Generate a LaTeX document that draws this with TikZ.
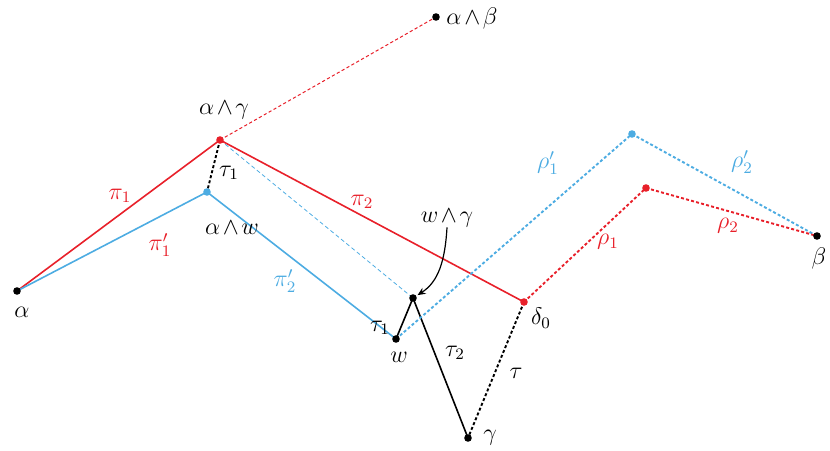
\documentclass[tikz,border=0pt]{standalone}
\usetikzlibrary{arrows.meta}
\definecolor{myred}{RGB}{232,32,42}
\definecolor{myblue}{RGB}{77,172,226}
\newcommand\labfont{\fontsize{12}{14}\selectfont\medmuskip=2mu\relax}
\begin{document}
\begin{tikzpicture}[x=0.5pt,y=-0.5pt,
  dotpt/.style={circle,fill,inner sep=0pt,minimum size=3.8pt},
  solidline/.style={line width=0.8pt},
  dotline/.style={line width=0.95pt,dash pattern=on 1.5pt off 1.1pt},
  thinred/.style={myred,line width=0.5pt,dash pattern=on 1.6pt off 1.2pt},
  thinblue/.style={myblue,line width=0.4pt,dash pattern=on 2pt off 1.4pt},
  lab/.style={inner sep=0pt,font=\labfont}]
\useasboundingbox (0,0) rectangle (830,450);
% points
\coordinate (a) at (17,291);
\coordinate (ag) at (220,140);
\coordinate (aw) at (207,192);
\coordinate (ab) at (436,17);
\coordinate (wg) at (413,298);
\coordinate (w) at (396,339);
\coordinate (d0) at (524,302);
\coordinate (g) at (468,438);
\coordinate (bt) at (632,134);
\coordinate (rt) at (646,188);
\coordinate (b) at (817,236);
% lines
\draw[thinred] (ag) -- (ab);
\draw[thinblue] (ag) -- (wg);
\draw[solidline,myred] (a) -- (ag);
\draw[solidline,myred] (ag) -- (d0);
\draw[solidline,myblue] (a) -- (aw);
\draw[solidline,myblue] (aw) -- (w);
\draw[dotline] (ag) -- (aw);
\draw[solidline] (w) -- (wg);
\draw[solidline] (wg) -- (g);
\draw[dotline,myblue] (w) -- (bt);
\draw[dotline,myblue] (bt) -- (b);
\draw[dotline,myred] (d0) -- (rt);
\draw[dotline,myred] (rt) -- (b);
\draw[dotline] (d0) -- (g);
% dots
\node[dotpt] (na) at (a) {};
\node[dotpt,myred] (nag) at (ag) {};
\node[dotpt,myblue] (naw) at (aw) {};
\node[dotpt] (nab) at (ab) {};
\node[dotpt] (nwg) at (wg) {};
\node[dotpt] (nw) at (w) {};
\node[dotpt,myred] (nd0) at (d0) {};
\node[dotpt] (ng) at (g) {};
\node[dotpt,myblue] (nbt) at (bt) {};
\node[dotpt,myred] (nrt) at (rt) {};
\node[dotpt] (nb) at (b) {};
% point labels
\node[lab] (la) at (22,312) {$\alpha$};
\node[lab] (lag) at (224,110) {$\alpha\wedge\gamma$};
\node[lab] (law) at (232,228) {$\alpha\wedge w$};
\node[lab] (lab) at (472,18) {$\alpha\wedge\beta$};
\node[lab] (lwg) at (447,218) {$w\wedge\gamma$};
\node[lab] (lw) at (399,357) {$w$};
\node[lab] (ld0) at (541,318) {$\delta_0$};
\node[lab] (lg) at (490,438) {$\gamma$};
\node[lab] (lb) at (819,258) {$\beta$};
% path labels
\node[lab,myred] (p1) at (120,196) {$\pi_1$};
\node[lab,myred] (p1p) at (160,245) {$\pi_1'$};
\node[lab,myred] (p2) at (362,202) {$\pi_2$};
\node[lab,myblue] (p2p) at (285,281) {$\pi_2'$};
\node[lab] (t1a) at (229,173) {$\tau_1$};
\node[lab] (t1b) at (380,328) {$\tau_1$};
\node[lab] (t2) at (455,353) {$\tau_2$};
\node[lab] (t) at (516,373) {$\tau$};
\node[lab,myblue] (r1p) at (548,163) {$\rho_1'$};
\node[lab,myblue] (r2p) at (742,162) {$\rho_2'$};
\node[lab,myred] (r1) at (608,242) {$\rho_1$};
\node[lab,myred] (r2) at (728,226) {$\rho_2$};
% arrow
\draw[line width=0.6pt,-{Stealth[length=4pt,width=3.5pt]},shorten >=0.6pt] (lwg.south) .. controls (445,262) and (438,282) .. (nwg);
\end{tikzpicture}
\end{document}
